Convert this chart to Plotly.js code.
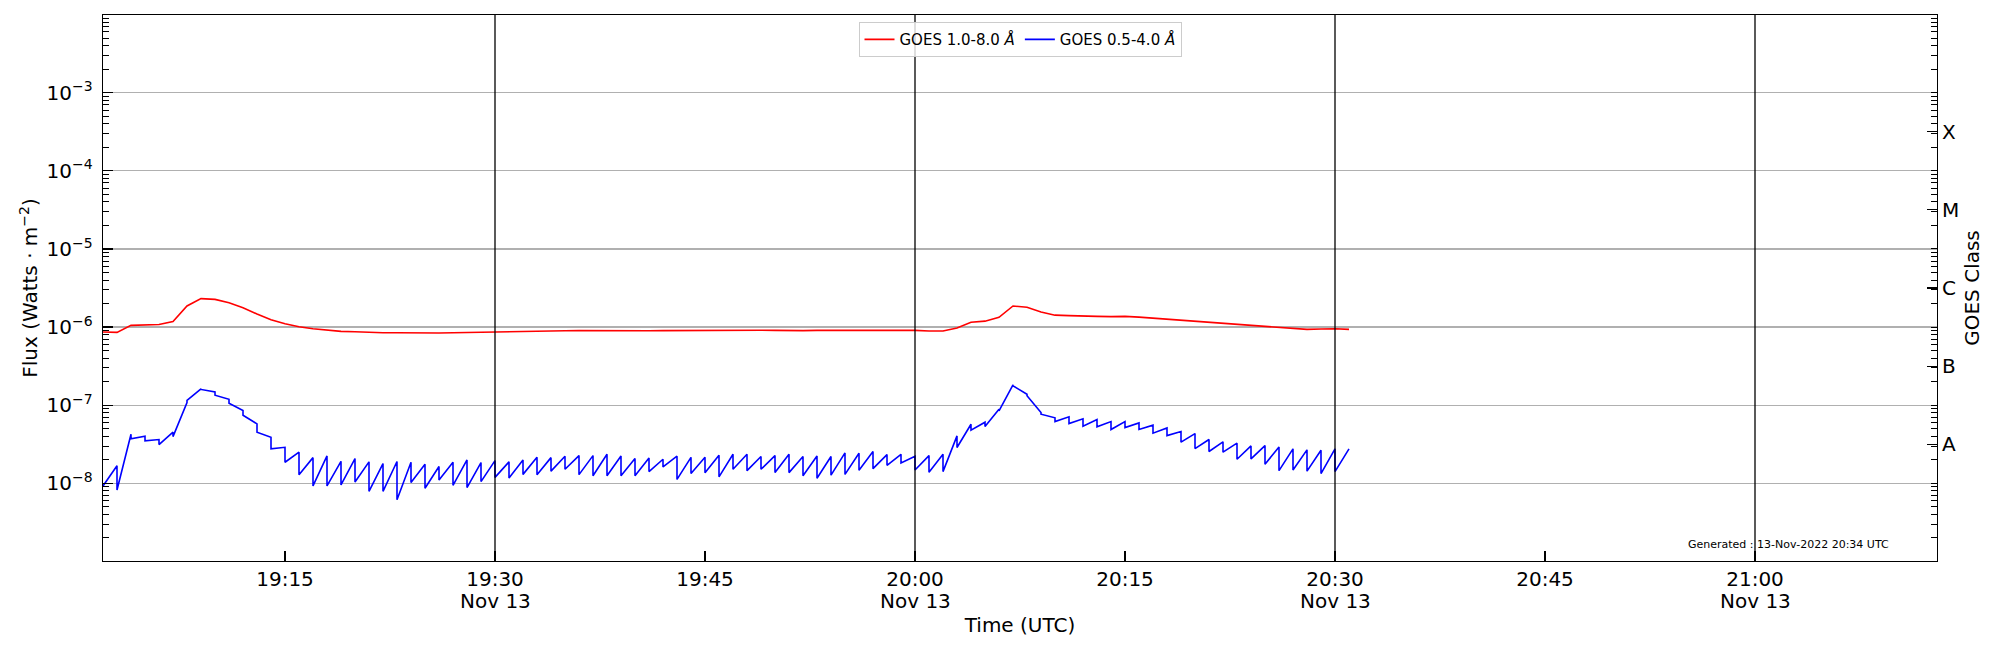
<!DOCTYPE html>
<html>
<head>
<meta charset="utf-8">
<script src="https://cdn.plot.ly/plotly-3.0.1.min.js"></script>
<style>
  html, body { margin: 0; padding: 0; background: #fff; }
</style>
</head>
<body>
<div id="plot" style="width:2000px;height:650px;"></div>
<script>
var day = '2022-11-13 ';

// one sample per minute, 19:02 .. 20:31
var minutes = [
  '19:02','19:03','19:04','19:05','19:06','19:07','19:08','19:09','19:10','19:11',
  '19:12','19:13','19:14','19:15','19:16','19:17','19:18','19:19','19:20','19:21',
  '19:22','19:23','19:24','19:25','19:26','19:27','19:28','19:29','19:30','19:31',
  '19:32','19:33','19:34','19:35','19:36','19:37','19:38','19:39','19:40','19:41',
  '19:42','19:43','19:44','19:45','19:46','19:47','19:48','19:49','19:50','19:51',
  '19:52','19:53','19:54','19:55','19:56','19:57','19:58','19:59','20:00','20:01',
  '20:02','20:03','20:04','20:05','20:06','20:07','20:08','20:09','20:10','20:11',
  '20:12','20:13','20:14','20:15','20:16','20:17','20:18','20:19','20:20','20:21',
  '20:22','20:23','20:24','20:25','20:26','20:27','20:28','20:29','20:30','20:31'
];

// GOES 1.0-8.0 A flux (W/m2)
var xrsLong = [
  8.63e-7, 8.54e-7, 1.05e-6, 1.07e-6, 1.08e-6, 1.18e-6, 1.86e-6, 2.31e-6, 2.26e-6, 2.05e-6,
  1.77e-6, 1.47e-6, 1.24e-6, 1.10e-6, 1.01e-6, 9.52e-7, 9.15e-7, 8.80e-7, 8.71e-7, 8.54e-7,
  8.46e-7, 8.46e-7, 8.42e-7, 8.30e-7, 8.38e-7, 8.46e-7, 8.54e-7, 8.63e-7, 8.71e-7, 8.80e-7,
  8.89e-7, 8.89e-7, 8.97e-7, 8.97e-7, 9.01e-7, 8.97e-7, 9.01e-7, 9.05e-7, 9.01e-7, 8.97e-7,
  9.01e-7, 9.05e-7, 9.01e-7, 9.05e-7, 9.05e-7, 9.10e-7, 9.06e-7, 9.10e-7, 9.06e-7, 8.97e-7,
  9.01e-7, 9.06e-7, 9.06e-7, 9.10e-7, 9.15e-7, 9.10e-7, 9.06e-7, 9.10e-7, 9.06e-7, 8.89e-7,
  8.89e-7, 9.71e-7, 1.15e-6, 1.19e-6, 1.33e-6, 1.86e-6, 1.79e-6, 1.56e-6, 1.42e-6, 1.40e-6,
  1.37e-6, 1.37e-6, 1.36e-6, 1.37e-6, 1.34e-6, 1.30e-6, 1.27e-6, 1.23e-6, 1.18e-6, 1.14e-6,
  1.10e-6, 1.07e-6, 1.04e-6, 1.02e-6, 9.90e-7, 9.61e-7, 9.33e-7, 9.43e-7, 9.52e-7, 9.33e-7
];

// GOES 0.5-4.0 A: value reached at the end of each minute, and value right after the reset
var xrsShortEnd = [
  null,   1.68e-8, 4.25e-8, 4.00e-8, 3.63e-8, 4.51e-8, 1.08e-7, 1.62e-7, 1.48e-7, 1.19e-7,
  8.55e-8, 5.76e-8, 3.89e-8, 2.89e-8, 2.50e-8, 2.13e-8, 2.24e-8, 1.91e-8, 2.07e-8, 1.88e-8,
  1.79e-8, 1.90e-8, 1.86e-8, 1.75e-8, 1.64e-8, 1.86e-8, 1.99e-8, 1.84e-8, 1.95e-8, 1.88e-8,
  1.99e-8, 2.15e-8, 2.13e-8, 2.22e-8, 2.26e-8, 2.26e-8, 2.35e-8, 2.24e-8, 2.07e-8, 2.11e-8,
  2.03e-8, 2.22e-8, 2.15e-8, 2.15e-8, 2.29e-8, 2.35e-8, 2.35e-8, 2.20e-8, 2.26e-8, 2.35e-8,
  2.20e-8, 2.24e-8, 2.20e-8, 2.45e-8, 2.42e-8, 2.55e-8, 2.33e-8, 2.35e-8, 2.22e-8, 2.26e-8,
  2.35e-8, 4.04e-8, 5.70e-8, 6.05e-8, 8.89e-8, 1.82e-7, 1.38e-7, 8.05e-8, 6.88e-8, 7.09e-8,
  6.68e-8, 6.55e-8, 6.17e-8, 6.17e-8, 5.93e-8, 5.54e-8, 5.12e-8, 4.60e-8, 4.33e-8, 3.63e-8,
  3.39e-8, 3.26e-8, 3.01e-8, 3.04e-8, 2.92e-8, 2.76e-8, 2.68e-8, 2.65e-8, 2.76e-8, 2.76e-8
];
var xrsShortStart = [
  9.24e-9, 8.21e-9, 3.70e-8, 3.49e-8, 3.13e-8, 3.96e-8, 1.15e-7, 1.59e-7, 1.34e-7, 1.06e-7,
  7.44e-8, 4.51e-8, 2.76e-8, 1.86e-8, 1.29e-8, 9.24e-9, 9.24e-9, 9.52e-9, 1.04e-8, 7.89e-9,
  7.89e-9, 6.17e-9, 1.02e-8, 8.63e-9, 1.10e-8, 9.43e-9, 8.80e-9, 1.05e-8, 1.19e-8, 1.17e-8,
  1.30e-8, 1.29e-8, 1.43e-8, 1.51e-8, 1.29e-8, 1.25e-8, 1.25e-8, 1.25e-8, 1.25e-8, 1.41e-8,
  1.62e-8, 1.12e-8, 1.33e-8, 1.36e-8, 1.21e-8, 1.51e-8, 1.45e-8, 1.51e-8, 1.37e-8, 1.37e-8,
  1.25e-8, 1.16e-8, 1.27e-8, 1.30e-8, 1.47e-8, 1.54e-8, 1.70e-8, 1.82e-8, 1.48e-8, 1.38e-8,
  1.41e-8, 2.87e-8, 4.78e-8, 5.33e-8, 8.46e-8, 1.77e-7, 1.32e-7, 7.67e-8, 6.17e-8, 5.82e-8,
  5.38e-8, 5.28e-8, 4.88e-8, 5.17e-8, 4.88e-8, 4.38e-8, 4.08e-8, 3.36e-8, 2.78e-8, 2.55e-8,
  2.50e-8, 2.03e-8, 2.05e-8, 1.75e-8, 1.45e-8, 1.48e-8, 1.43e-8, 1.33e-8, 1.41e-8, null
];

var tickTimes = ['19:15','19:30','19:45','20:00','20:15','20:30','20:45','21:00'];
var lineTimes = ['19:30','20:00','20:30','21:00'];   // also carry the date label
var dateLabel = 'Nov 13';

var classNames = ['A','B','C','M','X'];
var classLow = [1e-8, 1e-7, 1e-6, 1e-5, 1e-4];
var fluxTicks = [1e-8, 1e-7, 1e-6, 1e-5, 1e-4, 1e-3];

var font = 'DejaVu Sans, Liberation Sans, sans-serif';

var xLong = minutes.map(function(m) { return day + m; });

var xShort = [], yShort = [];
minutes.forEach(function(m, i) {
  if (xrsShortEnd[i] !== null) { xShort.push(day + m); yShort.push(xrsShortEnd[i]); }
  if (xrsShortStart[i] !== null) { xShort.push(day + m); yShort.push(xrsShortStart[i]); }
});

var trace1 = {
  x: xLong, y: xrsLong, mode: 'lines', type: 'scatter',
  name: 'GOES 1.0-8.0 <i>Å</i>',
  line: {color: '#ff0000', width: 1.6}
};
var trace2 = {
  x: xShort, y: yShort, mode: 'lines', type: 'scatter',
  name: 'GOES 0.5-4.0 <i>Å</i>',
  line: {color: '#0000ff', width: 1.6}
};
var trace3 = {
  x: [], y: [], yaxis: 'y2', type: 'scatter', mode: 'lines',
  showlegend: false, hoverinfo: 'skip'
};

var classMid = classLow.map(function(v) { return Math.sqrt(v * v * 10); });
var fluxText = fluxTicks.map(function(v) {
  return '10<sup>−' + Math.round(-Math.log10(v)) + '</sup>';
});

var shapes = lineTimes.map(function(t) {
  return {
    type: 'line', xref: 'x', yref: 'paper',
    x0: day + t, x1: day + t, y0: 0, y1: 1,
    line: {color: 'black', width: 1.3}, layer: 'above'
  };
});

var annotations = lineTimes.map(function(t) {
  return {
    xref: 'x', yref: 'paper', x: day + t, y: -0.073,
    xanchor: 'center', yanchor: 'middle', showarrow: false,
    text: dateLabel, font: {size: 20, family: font, color: 'black'}
  };
});
annotations.push({
  xref: 'paper', yref: 'paper', x: 0.975, y: 0.03,
  xanchor: 'right', yanchor: 'middle', showarrow: false,
  text: 'Generated : 13-Nov-2022 20:34 UTC',
  font: {size: 11, family: font, color: 'black'}
});

var yRange = [-8.995, -2.005];

var layout = {
  width: 2000, height: 650,
  margin: {l: 103, r: 63, t: 15, b: 89},
  paper_bgcolor: 'white', plot_bgcolor: 'white',
  font: {family: font, size: 20, color: 'black'},
  showlegend: true,
  legend: {
    orientation: 'h', x: 0.5, xanchor: 'center', y: 0.987, yanchor: 'top',
    bgcolor: 'rgba(255,255,255,0.8)', bordercolor: '#cccccc', borderwidth: 1,
    font: {size: 15, family: font}
  },
  xaxis: {
    type: 'date',
    range: [day + '19:02:00', day + '21:13:00'],
    tickvals: tickTimes.map(function(t) { return day + t; }),
    ticktext: tickTimes,
    ticks: 'inside', ticklen: 10, tickwidth: 1.2, tickcolor: 'black',
    showline: true, mirror: true, linecolor: 'black', linewidth: 1.3,
    showgrid: false, zeroline: false,
    tickfont: {size: 20, family: font},
    title: {text: 'Time (UTC)', font: {size: 20, family: font}, standoff: 27}
  },
  yaxis: {
    type: 'log', range: yRange,
    tickvals: fluxTicks, ticktext: fluxText,
    ticks: 'inside', ticklen: 10, tickwidth: 1.2, tickcolor: 'black',
    minor: {ticks: 'inside', ticklen: 6, tickwidth: 1, tickcolor: 'black', dtick: 'D1', showgrid: false},
    showline: true, mirror: true, linecolor: 'black', linewidth: 1.3,
    showgrid: true, gridcolor: '#b0b0b0', gridwidth: 1.2, zeroline: false,
    tickfont: {size: 20, family: font},
    ticklabelstandoff: 5,
    title: {text: 'Flux (Watts · m<sup>−2</sup>)', font: {size: 20, family: font}, standoff: 3}
  },
  yaxis2: {
    type: 'log', range: yRange, overlaying: 'y', side: 'right',
    tickvals: classMid, ticktext: classNames,
    ticks: 'inside', ticklen: 10, tickwidth: 1.2, tickcolor: 'black',
    minor: {ticks: 'inside', ticklen: 6, tickwidth: 1, tickcolor: 'black', dtick: 'D1', showgrid: false},
    showline: false, showgrid: false, zeroline: false,
    tickfont: {size: 20, family: font},
    ticklabelstandoff: 4,
    title: {text: 'GOES Class', font: {size: 20, family: font}, standoff: 6}
  },
  shapes: shapes,
  annotations: annotations
};

Plotly.newPlot('plot', [trace1, trace2, trace3], layout, {staticPlot: true});
</script>
</body>
</html>
